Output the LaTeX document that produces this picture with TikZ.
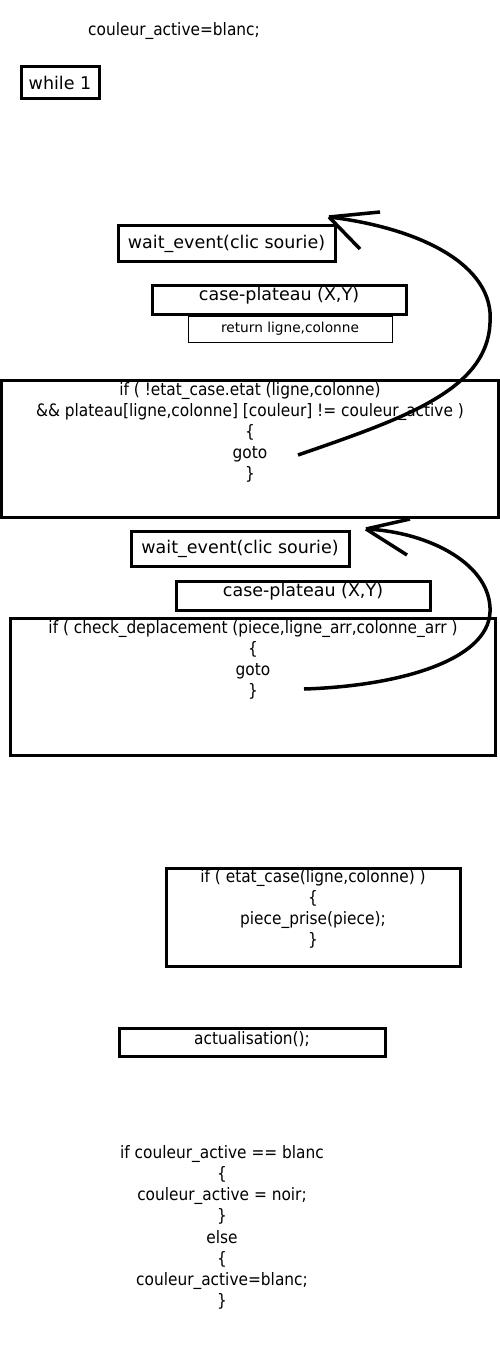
\documentclass[tikz,border=0pt]{standalone}
\usepackage{fontspec}
\setmainfont{DejaVu Sans}
\newfontfamily\condfont{DejaVu Sans Condensed}
\newcommand\fbig{\fontsize{17.5}{21}\selectfont}
\newcommand\fmid{\condfont\fontsize{17.1}{21.2}\selectfont}
\newcommand\fsml{\fontsize{13.7}{16}\selectfont}
\begin{document}
\begin{tikzpicture}[x=1pt,y=-1pt,
  box/.style={draw, line width=3pt, inner sep=0pt},
  thinbox/.style={draw, line width=1pt, inner sep=0pt},
  txt/.style={inner sep=0pt, align=center},
  loop/.style={line width=3.5pt},
  arm/.style={line width=3.5pt}]
\useasboundingbox[fill=white] (0,0) rectangle (500,1356);

\node[txt, font=\fmid] (init) at (174,31) {couleur\_active=blanc;};

\node[box, minimum width=78pt, minimum height=32pt, font=\fbig] (while) at (60,83) {while 1};

\node[box, minimum width=217pt, minimum height=35pt, font=\fbig] (wait1) at (226.5,243.5) {wait\_event(clic sourie)};
\node[box, minimum width=254pt, minimum height=29pt] (case1) at (279,299.5) {};
\node[txt, font=\fbig] (case1t) at (279,296) {case-plateau (X,Y)};
\node[thinbox, minimum width=204pt, minimum height=26pt, font=\fsml] (ret) at (290,329) {return ligne,colonne};

\node[box, minimum width=497pt, minimum height=137pt] (if1) at (249.5,448.5) {};
\node[txt, font=\fmid, anchor=north] (if1t) at (250,382) {if ( !etat\_case.etat (ligne,colonne)\\
\&\& plateau[ligne,colonne] [couleur] != couleur\_active )\\ \{\\ goto\\ \}};

\node[box, minimum width=218pt, minimum height=35pt, font=\fbig] (wait2) at (240,548.5) {wait\_event(clic sourie)};
\node[box, minimum width=254pt, minimum height=29pt] (case2) at (303,595.5) {};
\node[txt, font=\fbig] (case2t) at (303,592) {case-plateau (X,Y)};

\node[box, minimum width=485pt, minimum height=137pt] (if2) at (252.5,686.5) {};
\node[txt, font=\fmid, anchor=north] (if2t) at (253,620) {if ( check\_deplacement (piece,ligne\_arr,colonne\_arr )\\ \{\\ goto\\ \}};

\node[box, minimum width=294pt, minimum height=98pt] (if3) at (313,917) {};
\node[txt, font=\fmid, anchor=north] (if3t) at (313,869) {if ( etat\_case(ligne,colonne) )\\ \{\\ piece\_prise(piece);\\ \}};

\node[box, minimum width=266pt, minimum height=28pt] (act) at (252,1042) {};
\node[txt, font=\fmid] (actt) at (252,1039) {actualisation();};

\node[txt, font=\fmid, anchor=north] (fin) at (222,1145) {if couleur\_active == blanc\\ \{\\ couleur\_active = noir;\\ \}\\ else\\ \{\\ couleur\_active=blanc;\\ \}};

% loop arrow 1
\coordinate (s1) at (298,455);
\coordinate (r1) at (490,323);
\coordinate (t1) at (329,217);
\coordinate (a1) at (380,212);
\coordinate (b1) at (360,249);
\draw[loop] (s1) .. controls (405,418) and (487,390) .. (r1)
  .. controls (495,265) and (420,228) .. (t1);
\draw[arm] (t1) -- (a1);
\draw[arm] (t1) -- (b1);

% loop arrow 2
\coordinate (s2) at (304,689);
\coordinate (r2) at (490,612);
\coordinate (t2) at (366,529);
\coordinate (a2) at (410,519);
\coordinate (b2) at (407,555);
\draw[loop] (s2) .. controls (400,686) and (488,660) .. (r2)
  .. controls (492,565) and (430,532) .. (t2);
\draw[arm] (t2) -- (a2);
\draw[arm] (t2) -- (b2);
\end{tikzpicture}
\end{document}
